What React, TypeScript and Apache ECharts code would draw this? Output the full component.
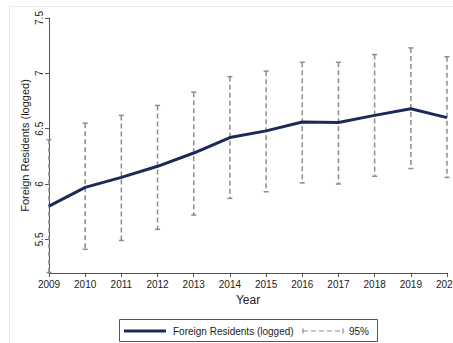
import React, { useEffect, useRef } from "react";
import * as echarts from "echarts";

// Yearly estimates of logged foreign residents with 95% confidence bounds
const years = [2009, 2010, 2011, 2012, 2013, 2014, 2015, 2016, 2017, 2018, 2019, 2020];
const estimate = [5.80, 5.97, 6.06, 6.16, 6.28, 6.42, 6.48, 6.56, 6.555, 6.62, 6.68, 6.60];
const ciLower = [5.20, 5.41, 5.49, 5.59, 5.72, 5.87, 5.93, 6.01, 6.00, 6.07, 6.14, 6.06];
const ciUpper = [6.40, 6.55, 6.62, 6.71, 6.83, 6.97, 7.02, 7.10, 7.10, 7.17, 7.23, 7.15];
const yTicks = [5.5, 6, 6.5, 7, 7.5];

const Y_MIN = 5.196;
const Y_MAX = 7.5;
const NAVY = "#1c2a5a";
const GREY = "#8c8c8c";
const FONT = "Liberation Sans, Arial, Helvetica, sans-serif";

export default function App() {
  const ref = useRef<HTMLDivElement>(null);

  useEffect(() => {
    if (!ref.current) return;
    const chart = echarts.init(ref.current, null, { renderer: "svg" });

    const option: any = {
      animation: false,
      backgroundColor: "#ffffff",
      textStyle: { fontFamily: FONT },
      grid: {
        left: 49,
        right: 6,
        top: 18,
        bottom: 70,
        containLabel: false,
        outerBoundsMode: "none",
      },
      xAxis: {
        type: "value",
        min: years[0],
        max: years[years.length - 1],
        interval: 1,
        name: "Year",
        nameLocation: "middle",
        nameGap: 21,
        nameMoveOverlap: false,
        nameTextStyle: { fontSize: 12, color: "#222", fontFamily: FONT },
        axisLine: { onZero: false, lineStyle: { color: "#555", width: 1 } },
        axisTick: { show: true, length: 4, lineStyle: { color: "#555" } },
        axisLabel: {
          fontSize: 10,
          color: "#222",
          margin: 6,
          hideOverlap: false,
          formatter: (v: number) => String(v),
        },
        splitLine: { show: false },
      },
      yAxis: {
        type: "value",
        min: Y_MIN,
        max: Y_MAX,
        name: "Foreign Residents (logged)",
        nameLocation: "middle",
        nameRotate: 90,
        nameGap: 19,
        nameMoveOverlap: false,
        nameTextStyle: { fontSize: 11, color: "#222", fontFamily: FONT },
        axisLine: { show: true, lineStyle: { color: "#555", width: 1 } },
        axisTick: {
          show: true,
          length: 4,
          lineStyle: { color: "#555" },
          customValues: yTicks,
        },
        axisLabel: {
          fontSize: 10,
          color: "#222",
          rotate: 90,
          margin: 5,
          customValues: yTicks,
          formatter: (v: number) => String(v),
        },
        splitLine: { show: false },
      },
      series: [
        {
          name: "95%",
          type: "custom",
          clip: false,
          z: 1,
          data: years.map((y, i) => [y, ciLower[i], ciUpper[i]]),
          renderItem: (_params: any, api: any) => {
            const x = api.value(0);
            const lo = Math.max(api.value(1), Y_MIN);
            const hi = api.value(2);
            const top = api.coord([x, hi]);
            const bot = api.coord([x, lo]);
            const cap = 2.5;
            const children: any[] = [
              {
                type: "line",
                shape: { x1: top[0], y1: top[1], x2: bot[0], y2: bot[1] },
                style: { stroke: GREY, lineWidth: 1.5, lineDash: [5, 3] },
              },
              {
                type: "line",
                shape: { x1: top[0] - cap, y1: top[1], x2: top[0] + cap, y2: top[1] },
                style: { stroke: GREY, lineWidth: 1.5 },
              },
            ];
            if (api.value(1) > Y_MIN) {
              children.push({
                type: "line",
                shape: { x1: bot[0] - cap, y1: bot[1], x2: bot[0] + cap, y2: bot[1] },
                style: { stroke: GREY, lineWidth: 1.5 },
              });
            }
            return { type: "group", children };
          },
        },
        {
          name: "Foreign Residents (logged)",
          type: "line",
          z: 3,
          data: years.map((y, i) => [y, estimate[i]]),
          showSymbol: false,
          symbol: "none",
          lineStyle: { color: NAVY, width: 3 },
        },
      ],
      graphic: [
        {
          type: "rect",
          silent: true,
          z: -1,
          shape: { x: 9.5, y: 6.5, width: 460, height: 350 },
          style: { fill: "none", stroke: "#e4eaf0", lineWidth: 1 },
        },
        {
          type: "group",
          left: 119,
          top: 319,
          children: [
            {
              type: "rect",
              shape: { x: 0.5, y: 0.5, width: 258, height: 22 },
              style: { fill: "#fff", stroke: "#555", lineWidth: 1 },
            },
            {
              type: "line",
              shape: { x1: 5, y1: 12, x2: 47, y2: 12 },
              style: { stroke: NAVY, lineWidth: 3 },
            },
            {
              type: "text",
              x: 54,
              y: 12,
              style: {
                text: "Foreign Residents (logged)",
                fontSize: 10,
                fontFamily: FONT,
                fill: "#222",
                verticalAlign: "middle",
              },
            },
            {
              type: "line",
              shape: { x1: 184, y1: 12, x2: 224, y2: 12 },
              style: { stroke: GREY, lineWidth: 1.2, lineDash: [5, 3] },
            },
            {
              type: "line",
              shape: { x1: 184, y1: 9.5, x2: 184, y2: 14.5 },
              style: { stroke: GREY, lineWidth: 1.2 },
            },
            {
              type: "line",
              shape: { x1: 224, y1: 9.5, x2: 224, y2: 14.5 },
              style: { stroke: GREY, lineWidth: 1.2 },
            },
            {
              type: "text",
              x: 230,
              y: 12,
              style: {
                text: "95%",
                fontSize: 10,
                fontFamily: FONT,
                fill: "#222",
                verticalAlign: "middle",
              },
            },
          ],
        },
      ],
    };

    chart.setOption(option);
    return () => chart.dispose();
  }, []);

  return (
    <div
      ref={ref}
      style={{ position: "fixed", left: 0, top: 0, width: 453, height: 343, background: "#fff" }}
    />
  );
}
